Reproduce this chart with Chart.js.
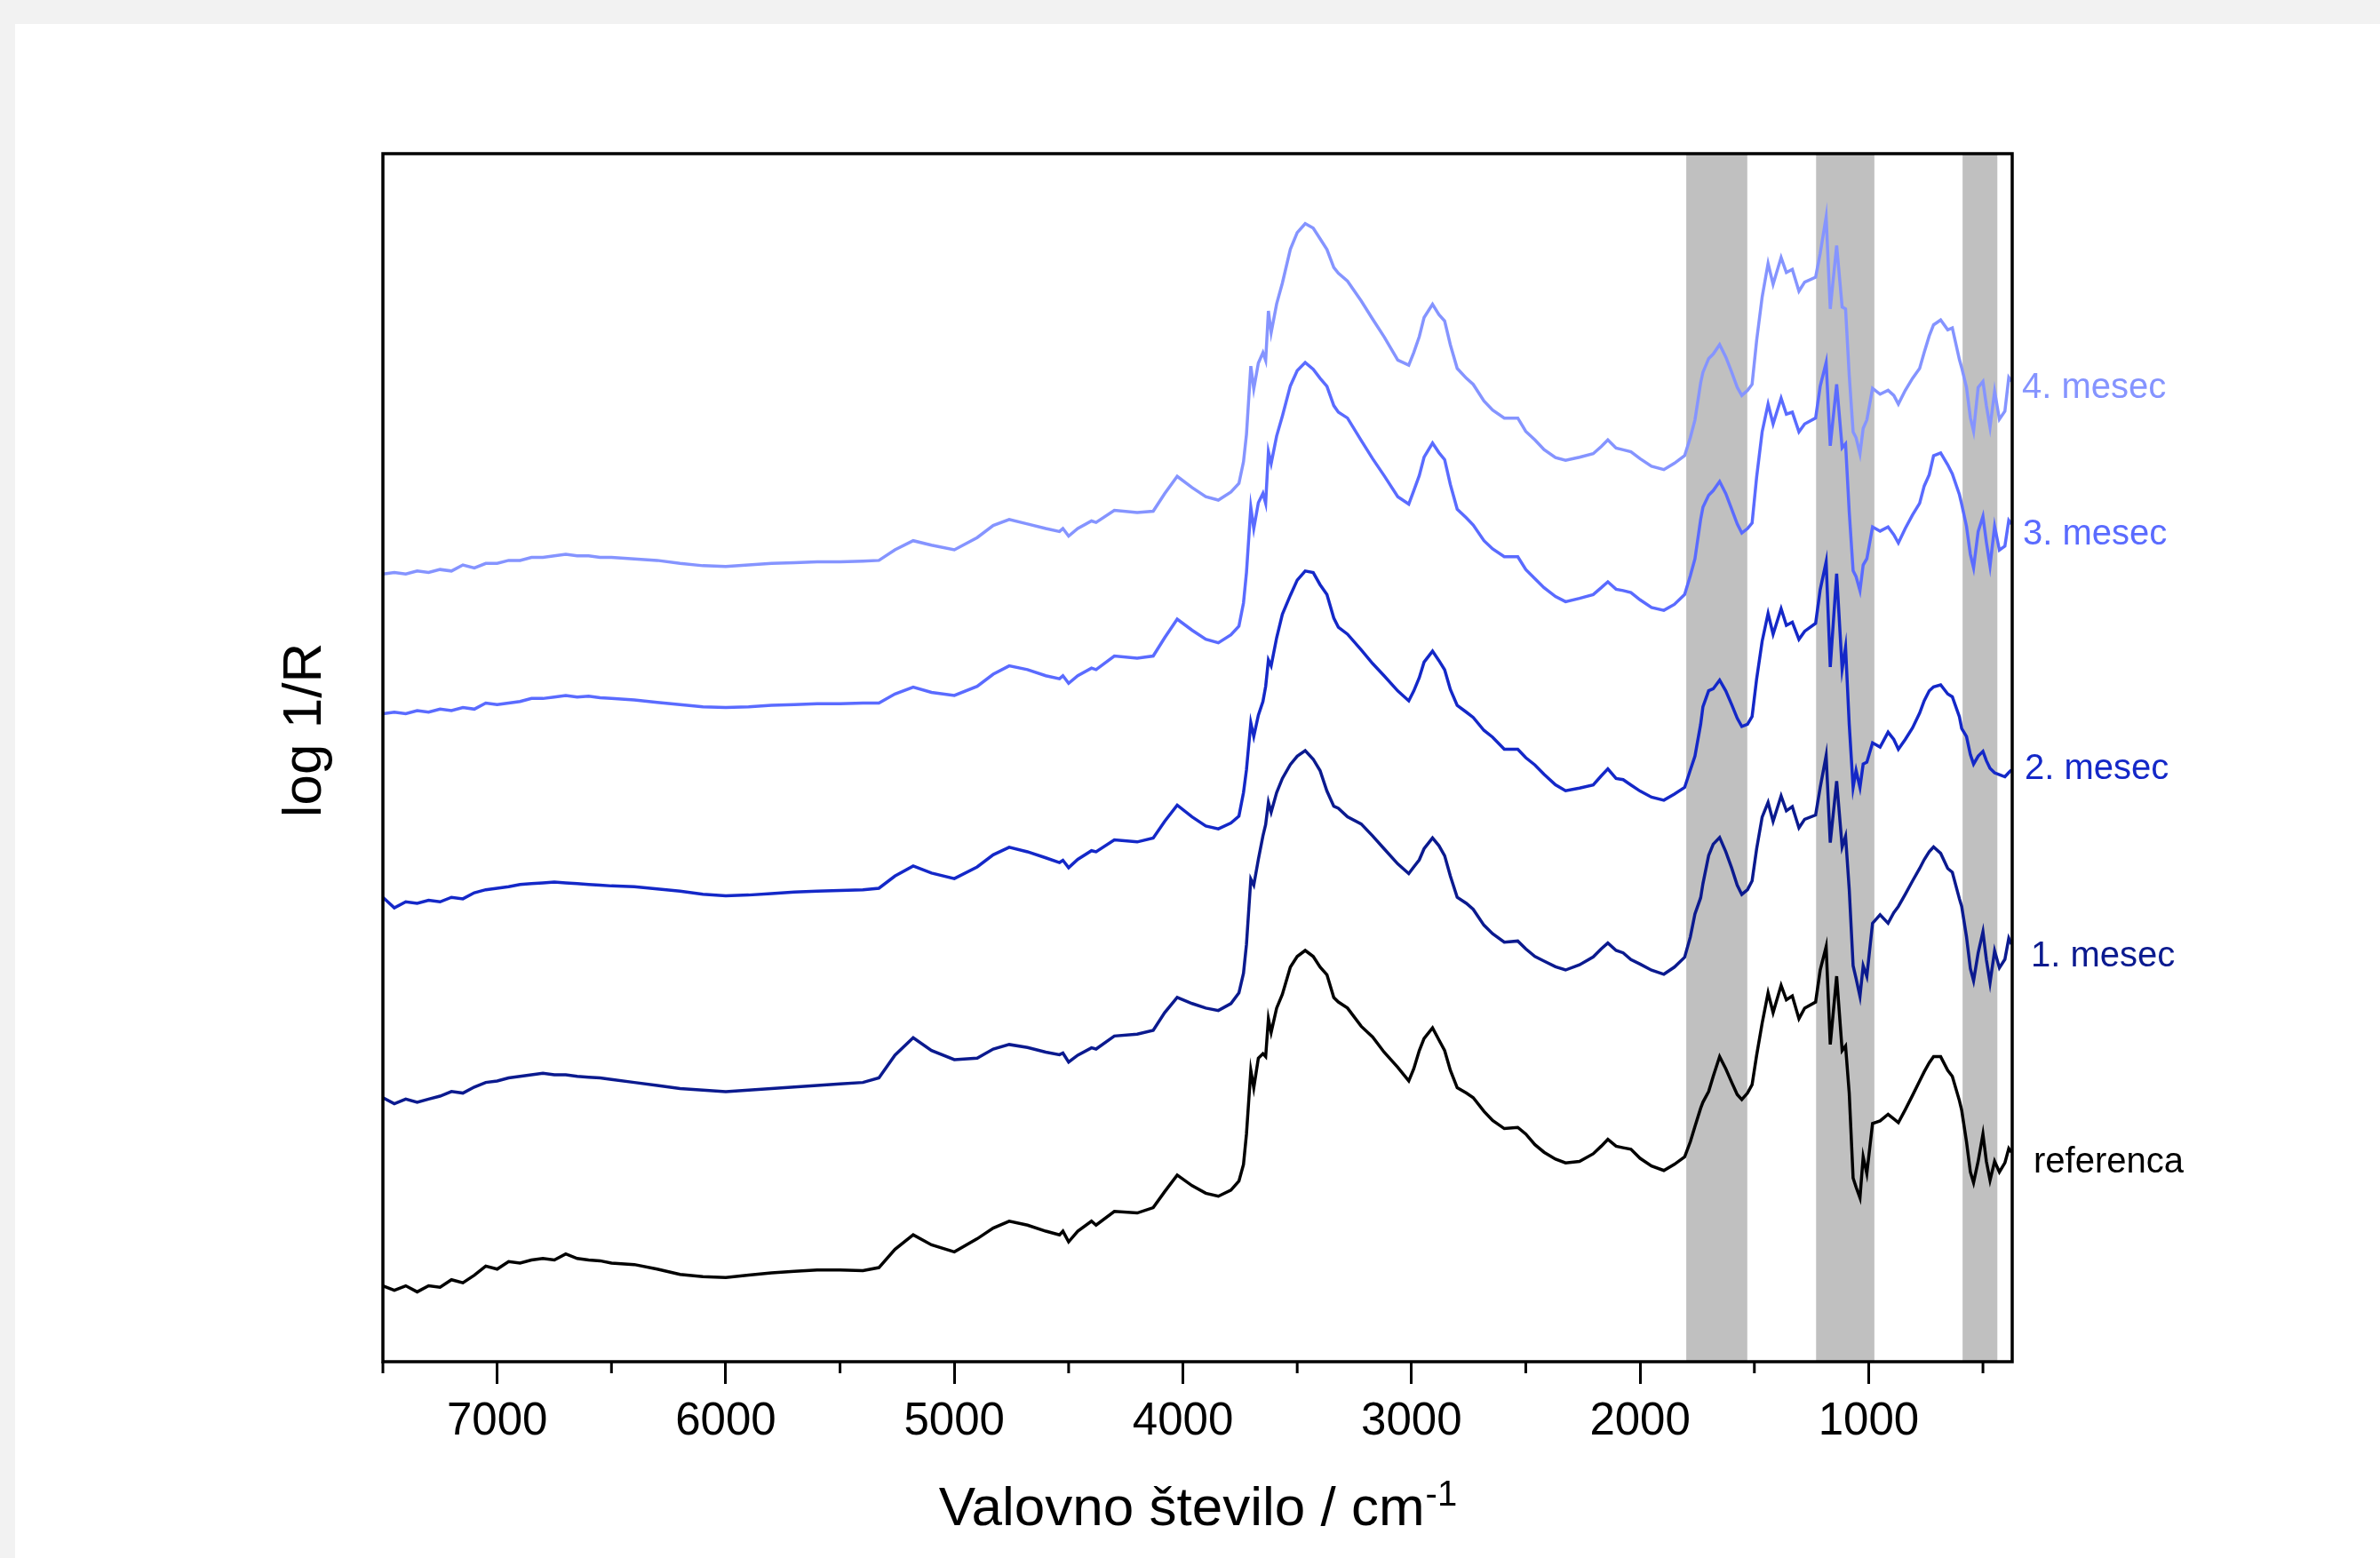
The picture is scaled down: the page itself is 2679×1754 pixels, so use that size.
<!DOCTYPE html>
<html>
<head>
<meta charset="utf-8">
<script src="https://cdn.jsdelivr.net/npm/chart.js@4.4.1/dist/chart.umd.min.js"></script>
<style>
  body { margin: 0; background: #f2f2f2; }
  #panel { position: absolute; left: 17px; top: 27px; width: 2662px; height: 1727px; background: #fff; }
</style>
</head>
<body>
<div id="panel"><canvas id="spektri" width="2662" height="1727"></canvas></div>
<script>
// valovno stevilo (cm-1), skupna mreza za vse spektre
const wavenumber = [
  7500,7450,7400,7350,7300,7250,7200,7150,7100,7050,
  7000,6950,6900,6850,6800,6750,6700,6650,6600,6550,
  6500,6400,6300,6200,6100,6000,5900,5800,5700,5600,
  5500,5400,
  5330,5260,5180,5100,5000,4900,4830,4760,4680,4600,
  4540,4525,4500,4460,4400,4380,4300,4200,4130,4080,
  4025,3960,3900,3845,3790,3755,3735,3722,3703,3690,
  3670,3650,3638,3626,3614,3590,3565,3530,3500,3465,
  3430,3400,3370,3340,3320,3280,3220,3170,3120,3060,
  3012,2990,2966,2945,2908,2880,2855,2830,2800,2760,
  2730,2683,2645,2594,2535,2500,2460,2420,2370,2326,
  2265,2205,2170,2141,2105,2074,2040,2000,1950,1896,
  1850,1805,1780,1760,1735,1725,1700,1680,1652,1625,
  1599,1575,1555,1530,1510,1490,1466,1440,1418,1383,
  1360,1334,1305,1280,1232,1212,1186,1168,1140,1116,
  1101,1085,1068,1055,1038,1024,1008,983,950,915,
  890,870,840,808,777,757,735,716,685,654,
  634,603,593,572,555,541,521,500,485,469,
  449,428,404,387,375
];

// log 1/R, spektri zamaknjeni navpicno
const referenca = [
  0.50,0.47,0.50,0.46,0.50,0.49,0.54,0.52,0.57,0.63,
  0.61,0.66,0.65,0.67,0.68,0.67,0.71,0.68,0.67,0.665,
  0.65,0.64,0.61,0.575,0.56,0.555,0.57,0.585,0.595,0.605,
  0.605,0.60,
  0.62,0.74,0.836,0.77,0.724,0.81,0.88,0.926,0.90,0.86,
  0.836,0.86,0.79,0.86,0.926,0.90,0.99,0.98,1.015,1.12,
  1.23,1.16,1.11,1.09,1.13,1.19,1.30,1.50,1.92,1.805,
  2.00,2.03,2.01,2.26,2.17,2.33,2.42,2.60,2.67,2.71,
  2.67,2.60,2.55,2.40,2.37,2.33,2.21,2.14,2.04,1.94,
  1.85,1.93,2.05,2.13,2.20,2.12,2.05,1.92,1.805,1.77,
  1.74,1.65,1.59,1.536,1.544,1.50,1.43,1.38,1.335,1.31,
  1.32,1.37,1.42,1.465,1.42,1.41,1.40,1.34,1.29,1.26,
  1.30,1.35,1.45,1.55,1.67,1.71,1.78,1.88,2.01,1.93,
  1.84,1.76,1.727,1.77,1.825,2.02,2.23,2.43,2.30,2.48,
  2.385,2.41,2.26,2.33,2.37,2.58,2.735,2.09,2.54,2.05,
  2.08,1.77,1.21,1.15,1.08,1.35,1.24,1.57,1.587,1.63,
  1.60,1.575,1.66,1.755,1.85,1.91,1.97,2.01,2.01,1.92,
  1.88,1.72,1.657,1.45,1.25,1.18,1.32,1.50,1.32,1.195,
  1.32,1.25,1.31,1.405,1.38
];
const mesec1 = [
  1.74,1.70,1.73,1.71,1.73,1.75,1.78,1.77,1.81,1.84,
  1.85,1.87,1.88,1.89,1.90,1.89,1.89,1.88,1.875,1.87,
  1.86,1.84,1.82,1.80,1.79,1.78,1.79,1.80,1.81,1.82,
  1.83,1.84,
  1.87,2.02,2.135,2.05,1.99,2.00,2.06,2.09,2.07,2.04,
  2.023,2.034,1.974,2.02,2.068,2.06,2.146,2.158,2.184,2.30,
  2.40,2.36,2.33,2.314,2.36,2.43,2.56,2.75,3.18,3.14,
  3.31,3.464,3.54,3.686,3.62,3.75,3.843,3.935,3.99,4.026,
  3.97,3.895,3.76,3.66,3.647,3.59,3.543,3.464,3.38,3.28,
  3.216,3.26,3.307,3.38,3.451,3.40,3.334,3.20,3.06,3.02,
  2.981,2.876,2.82,2.764,2.772,2.72,2.67,2.64,2.602,2.581,
  2.615,2.667,2.72,2.759,2.71,2.694,2.65,2.62,2.58,2.553,
  2.60,2.665,2.80,2.95,3.057,3.15,3.336,3.41,3.454,3.36,
  3.252,3.14,3.079,3.11,3.168,3.38,3.588,3.686,3.56,3.728,
  3.63,3.658,3.518,3.574,3.602,3.784,3.994,3.42,3.826,3.392,
  3.462,3.113,2.609,2.525,2.407,2.609,2.539,2.889,2.945,2.889,
  2.959,3.00,3.08,3.168,3.25,3.308,3.36,3.392,3.35,3.25,
  3.225,3.05,3.00,2.80,2.59,2.51,2.693,2.833,2.65,2.497,
  2.707,2.595,2.651,2.79,2.75
];
const mesec2 = [
  3.06,2.99,3.03,3.02,3.04,3.03,3.06,3.05,3.09,3.11,
  3.12,3.13,3.145,3.15,3.155,3.16,3.155,3.15,3.145,3.14,
  3.135,3.13,3.115,3.10,3.08,3.07,3.075,3.085,3.095,3.10,
  3.105,3.11,
  3.12,3.20,3.266,3.22,3.183,3.26,3.34,3.39,3.36,3.32,
  3.289,3.304,3.255,3.31,3.367,3.36,3.439,3.425,3.451,3.56,
  3.667,3.59,3.53,3.511,3.55,3.595,3.75,3.90,4.21,4.12,
  4.26,4.35,4.45,4.624,4.585,4.77,4.925,5.05,5.15,5.21,
  5.20,5.12,5.055,4.90,4.84,4.794,4.69,4.60,4.52,4.42,
  4.355,4.42,4.507,4.61,4.682,4.62,4.559,4.43,4.324,4.28,
  4.245,4.16,4.115,4.036,4.036,3.98,3.932,3.87,3.801,3.762,
  3.78,3.801,3.86,3.906,3.843,3.835,3.80,3.76,3.72,3.70,
  3.74,3.784,3.90,3.99,4.20,4.316,4.421,4.434,4.491,4.42,
  4.329,4.24,4.186,4.20,4.251,4.50,4.747,4.93,4.794,4.962,
  4.852,4.873,4.76,4.813,4.865,5.087,5.27,4.577,5.192,4.564,
  4.708,4.20,3.784,3.896,3.784,3.938,3.95,4.078,4.05,4.148,
  4.10,4.036,4.10,4.176,4.274,4.355,4.42,4.447,4.46,4.40,
  4.381,4.25,4.173,4.12,4.00,3.938,3.99,4.022,3.96,3.91,
  3.88,3.868,3.854,3.882,3.90
];
const mesec3 = [
  4.27,4.28,4.27,4.29,4.28,4.30,4.29,4.31,4.30,4.34,
  4.33,4.34,4.35,4.37,4.37,4.38,4.39,4.38,4.385,4.375,
  4.37,4.36,4.345,4.33,4.315,4.31,4.315,4.325,4.33,4.335,
  4.335,4.34,
  4.34,4.40,4.445,4.41,4.39,4.45,4.53,4.585,4.56,4.52,
  4.50,4.52,4.47,4.52,4.57,4.56,4.65,4.635,4.65,4.77,
  4.893,4.82,4.76,4.737,4.79,4.846,5.00,5.20,5.63,5.49,
  5.66,5.722,5.656,5.996,5.918,6.10,6.231,6.43,6.53,6.584,
  6.54,6.48,6.427,6.30,6.257,6.218,6.07,5.95,5.839,5.70,
  5.651,5.74,5.839,5.96,6.053,5.99,5.944,5.78,5.617,5.56,
  5.513,5.41,5.356,5.304,5.304,5.22,5.16,5.10,5.042,5.008,
  5.03,5.055,5.10,5.139,5.09,5.081,5.068,5.02,4.97,4.951,
  4.99,5.055,5.18,5.29,5.55,5.63,5.709,5.74,5.80,5.72,
  5.617,5.52,5.46,5.49,5.526,5.83,6.127,6.31,6.179,6.349,
  6.244,6.257,6.127,6.179,6.218,6.427,6.584,6.035,6.44,6.022,
  6.048,5.60,5.212,5.173,5.081,5.25,5.291,5.50,5.473,5.50,
  5.45,5.395,5.49,5.58,5.656,5.77,5.845,5.97,5.988,5.91,
  5.85,5.714,5.65,5.505,5.32,5.231,5.47,5.57,5.40,5.244,
  5.505,5.348,5.374,5.544,5.52
];
const mesec4 = [
  5.19,5.20,5.19,5.21,5.20,5.22,5.21,5.25,5.23,5.26,
  5.26,5.28,5.28,5.30,5.30,5.31,5.32,5.31,5.31,5.30,
  5.30,5.29,5.28,5.26,5.245,5.24,5.25,5.26,5.265,5.27,
  5.27,5.275,
  5.28,5.35,5.41,5.38,5.35,5.43,5.51,5.55,5.52,5.49,
  5.47,5.49,5.44,5.49,5.54,5.53,5.61,5.595,5.604,5.72,
  5.834,5.76,5.70,5.677,5.73,5.787,5.93,6.11,6.56,6.41,
  6.58,6.649,6.597,6.924,6.78,6.97,7.107,7.33,7.44,7.499,
  7.47,7.40,7.329,7.21,7.172,7.12,6.99,6.87,6.754,6.60,
  6.566,6.65,6.754,6.88,6.968,6.90,6.858,6.70,6.545,6.48,
  6.44,6.33,6.27,6.218,6.218,6.13,6.074,6.01,5.957,5.939,
  5.96,5.983,6.03,6.074,6.02,6.009,5.996,5.95,5.90,5.878,
  5.92,5.97,6.09,6.205,6.45,6.519,6.61,6.64,6.702,6.62,
  6.519,6.42,6.367,6.40,6.44,6.73,7.015,7.237,7.099,7.276,
  7.177,7.198,7.054,7.114,7.146,7.303,7.543,6.937,7.355,6.95,
  6.937,6.50,6.127,6.088,5.983,6.15,6.205,6.414,6.375,6.401,
  6.367,6.31,6.40,6.48,6.545,6.65,6.759,6.832,6.864,6.799,
  6.812,6.603,6.55,6.42,6.22,6.132,6.42,6.459,6.30,6.158,
  6.394,6.21,6.263,6.485,6.46
];

const seriesNames = ['referenca', '1. mesec', '2. mesec', '3. mesec', '4. mesec'];
const seriesValues = [referenca, mesec1, mesec2, mesec3, mesec4];
const seriesColors = ['#000000', '#0b1a8f', '#1428c8', '#5a6bff', '#8594ff'];

// oznaceni pasovi (cm-1)
const bands = [[1798, 1531], [1230, 975], [589, 437]];
const majorTicks = [7000, 6000, 5000, 4000, 3000, 2000, 1000];
const minorTicks = [7500, 6500, 5500, 4500, 3500, 2500, 1500, 500];

const FONT = "'Liberation Sans', Arial, sans-serif";
Chart.defaults.font.family = FONT;
Chart.defaults.color = '#000';

// polozaj napisov ob desnem robu (odmik od roba, osnovna crta v px)
const labelPos = [[24, 1293], [21, 1061], [14, 850], [12, 586], [11, 421]];

const decor = {
  id: 'decor',
  beforeDatasetsDraw(chart) {
    const {ctx, chartArea: a, scales: {x}} = chart;
    ctx.save();
    ctx.fillStyle = '#c0c0c0';
    bands.forEach(([hi, lo]) => {
      const x1 = x.getPixelForValue(hi);
      const x2 = x.getPixelForValue(lo);
      ctx.fillRect(x1, a.top, x2 - x1, a.bottom - a.top);
    });
    ctx.restore();
  },
  afterDraw(chart) {
    const {ctx, chartArea: a, scales: {x}} = chart;
    ctx.save();
    ctx.strokeStyle = '#000';
    ctx.lineWidth = 3.5;
    ctx.strokeRect(a.left, a.top, a.right - a.left, a.bottom - a.top);
    ctx.lineWidth = 3;
    ctx.beginPath();
    minorTicks.forEach(v => {
      const px = x.getPixelForValue(v);
      ctx.moveTo(px, a.bottom);
      ctx.lineTo(px, a.bottom + 13);
    });
    ctx.stroke();

    ctx.fillStyle = '#000';
    // naslov osi x z nadpisanim -1
    const main = 'Valovno število / cm', sup = '-1';
    ctx.font = '62px ' + FONT;
    const wMain = ctx.measureText(main).width;
    ctx.font = '40px ' + FONT;
    const wSup = ctx.measureText(sup).width;
    const x0 = (a.left + a.right) / 2 - (wMain + wSup) / 2;
    const yBase = a.bottom + 184;
    ctx.textAlign = 'left';
    ctx.textBaseline = 'alphabetic';
    ctx.font = '62px ' + FONT;
    ctx.fillText(main, x0, yBase);
    ctx.font = '40px ' + FONT;
    ctx.fillText(sup, x0 + wMain + 1, yBase - 22);

    // naslov osi y
    ctx.save();
    ctx.translate(a.left - 70, (a.top + a.bottom) / 2 - 31);
    ctx.rotate(-Math.PI / 2);
    ctx.textAlign = 'center';
    ctx.font = '62px ' + FONT;
    ctx.fillText('log 1/R', 0, 0);
    ctx.restore();

    // imena spektrov
    ctx.font = '40px ' + FONT;
    seriesNames.forEach((name, i) => {
      ctx.fillStyle = seriesColors[i];
      ctx.fillText(name, a.right + labelPos[i][0], labelPos[i][1]);
    });
    ctx.restore();
  }
};

const datasets = seriesNames.map((name, i) => ({
  label: name,
  data: wavenumber.map((w, k) => ({x: w, y: seriesValues[i][k]})),
  borderColor: seriesColors[i],
  borderWidth: 3.5,
  pointRadius: 0,
  tension: 0,
  fill: false
}));

const config = {
  type: 'line',
  data: {datasets: datasets},
  options: {
    responsive: false,
    animation: false,
    events: [],
    layout: {padding: {left: 0, right: 414, top: 146, bottom: 0}},
    plugins: {legend: {display: false}, tooltip: {enabled: false}},
    scales: {
      x: {
        type: 'linear',
        min: 372,
        max: 7500,
        reverse: true,
        border: {display: false},
        grid: {drawOnChartArea: false, drawTicks: true, tickLength: 25, tickWidth: 3, tickColor: '#000'},
        ticks: {font: {size: 51}, color: '#000', padding: 12, maxRotation: 0, callback: v => String(v)},
        afterBuildTicks: s => { s.ticks = majorTicks.map(v => ({value: v})); },
        afterFit: s => { s.height = 221; }
      },
      y: {
        min: 0,
        max: 7.96,
        border: {display: false},
        grid: {display: false},
        ticks: {display: false},
        afterFit: s => { s.width = 414; }
      }
    }
  },
  plugins: [decor]
};

const spektri = new Chart(document.getElementById('spektri'), config);
</script>
</body>
</html>
